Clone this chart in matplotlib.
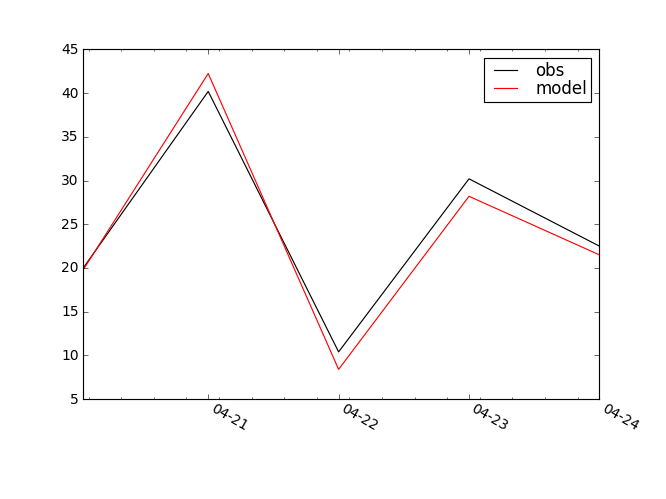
import datetime as dt
import matplotlib
matplotlib.use('Agg')
import matplotlib.pyplot as plt
import matplotlib.dates as mdates

plt.style.use('classic')

# daily values, first one starts at 01:00
times = [dt.datetime(2014, 4, 20, 1), dt.datetime(2014, 4, 21), dt.datetime(2014, 4, 22),
         dt.datetime(2014, 4, 23), dt.datetime(2014, 4, 24)]
obs = [20.0, 40.2, 10.4, 30.2, 22.5]
model = [19.8, 42.25, 8.4, 28.2, 21.5]

fig = plt.figure(figsize=(8, 6))
ax = fig.add_subplot(111)
ax.plot(times, obs, 'k-', label='obs')
ax.plot(times, model, 'r-', label='model')
ax.set_xlim(times[0], times[-1])
ax.set_ylim(5, 45)

ax.xaxis.set_major_locator(mdates.DayLocator())
ax.xaxis.set_major_formatter(mdates.DateFormatter('%m-%d'))
ax.xaxis.set_minor_locator(mdates.HourLocator(byhour=[2, 8, 14, 20]))
ax.tick_params(axis='x', which='major', pad=2)
for lab in ax.get_xticklabels():
    lab.set_rotation(-30)
    lab.set_ha('left')

ax.legend(loc='upper right', labelspacing=0.0, borderpad=0.25, handletextpad=0.8)
fig.subplots_adjust(bottom=0.2)
fig.savefig('out.png', dpi=83.25)
